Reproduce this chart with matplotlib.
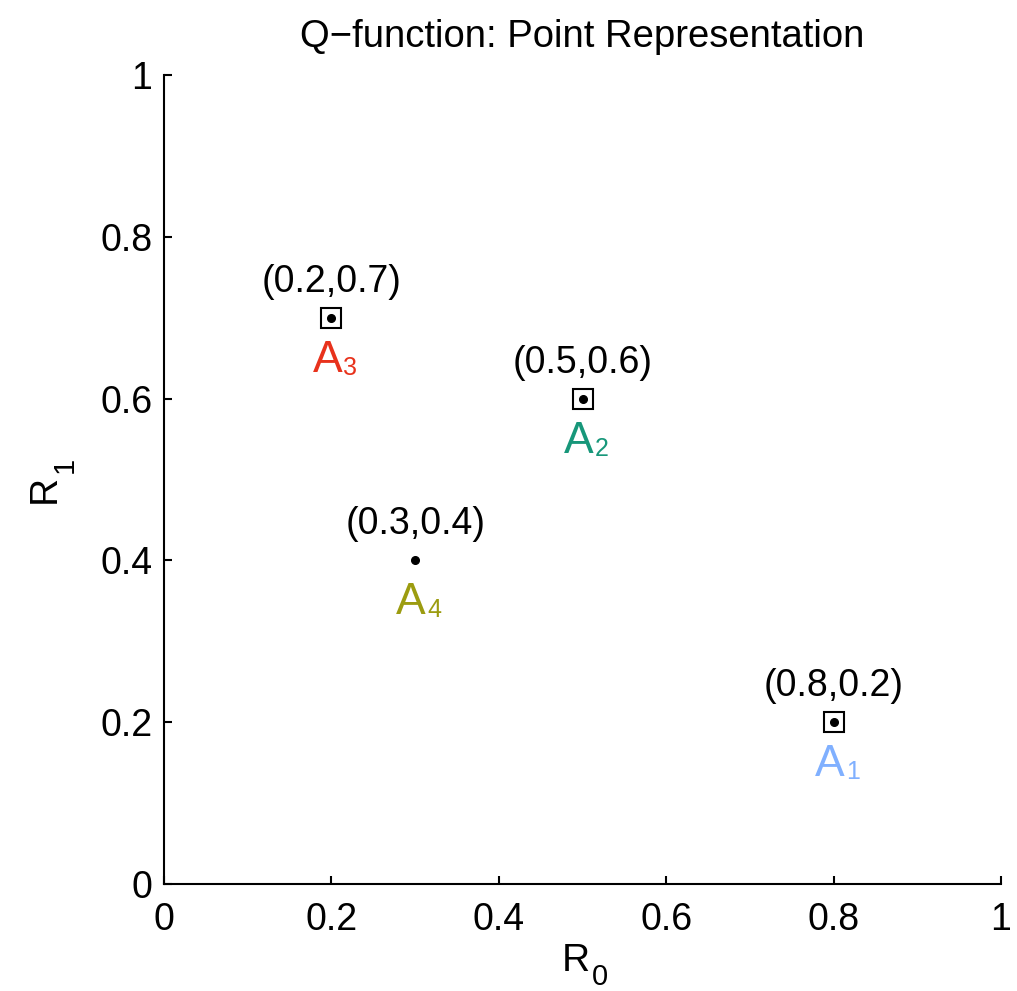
import matplotlib
matplotlib.use("Agg")
import matplotlib.pyplot as plt

plt.rcParams["font.family"] = ["Liberation Sans", "DejaVu Sans"]

# points of the Q-function
r0 = [0.8, 0.5, 0.2, 0.3]
r1 = [0.2, 0.6, 0.7, 0.4]
names = ["1", "2", "3", "4"]
boxed = [True, True, True, False]
colors = ["#80b0ff", "#17977a", "#e8321c", "#9c9c10"]
ticks = [0, 0.2, 0.4, 0.6, 0.8, 1]
tick_labels = ["0", "0.2", "0.4", "0.6", "0.8", "1"]


def sub_text(ax, xy, coords, main, sub, off_main, off_sub, size, subsize,
             color="black", rotation=0):
    # letter + subscript as two texts, matlab puts the index low and big
    for s, off, fs in [(main, off_main, size), (sub, off_sub, subsize)]:
        ax.annotate(s, xy, xycoords=coords, xytext=off,
                    textcoords="offset pixels", ha="left", va="baseline",
                    fontsize=fs, color=color, rotation=rotation,
                    rotation_mode="anchor", annotation_clip=False)


fig = plt.figure(figsize=(10.17, 9.91), dpi=100)
ax = fig.add_axes([0.1613, 0.108, 0.823, 0.8163])

for x, y, n, b, c in zip(r0, r1, names, boxed, colors):
    if b:
        ax.plot(x, y, "s", ms=14, mfc="none", mec="black", mew=1.5)
    ax.plot(x, y, "o", ms=5.5, color="black")
    ax.annotate("(%g,%g)" % (x, y), (x, y), xytext=(0, 26),
                textcoords="offset pixels", ha="center", va="baseline",
                fontsize=27)
    sub_text(ax, (x, y), "data", "A", n, (-19, -54), (12, -57), 32, 18,
             color=c)

ax.set_xlim(0, 1)
ax.set_ylim(0, 1)
ax.set_xticks(ticks)
ax.set_xticklabels(tick_labels)
ax.set_yticks(ticks)
ax.set_yticklabels(tick_labels)
ax.spines["top"].set_visible(False)
ax.spines["right"].set_visible(False)
for s in ["left", "bottom"]:
    ax.spines[s].set_linewidth(1.5)
ax.tick_params(direction="in", length=6, width=1.5, labelsize=27)
ax.tick_params(axis="x", pad=13)
ax.tick_params(axis="y", pad=8.5)

sub_text(ax, (0.5, 0), "axes fraction", "R", "0", (-21, -87), (9, -101),
         28, 21)
sub_text(ax, (0, 0.5), "axes fraction", "R", "1", (-109, -24), (-91, 6),
         28, 21, rotation=90)
ax.set_title("Q\u2212function: Point Representation", fontsize=27.5, pad=20)

fig.savefig("out.png", dpi=100)
